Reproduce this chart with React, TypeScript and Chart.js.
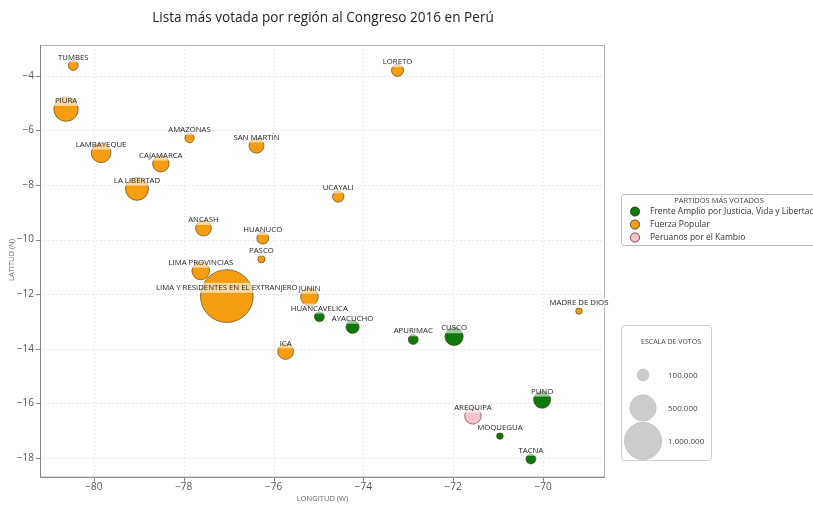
import React, { useEffect, useRef } from "react";
import { Chart, registerables } from "chart.js";
Chart.register(...registerables);

const regions = [
  "TUMBES", "PIURA", "LAMBAYEQUE", "AMAZONAS", "SAN MARTÍN", "CAJAMARCA", "LA LIBERTAD",
  "UCAYALI", "LORETO", "ANCASH", "HUANUCO", "PASCO", "LIMA PROVINCIAS",
  "LIMA Y RESIDENTES EN EL EXTRANJERO", "JUNIN", "HUANCAVELICA", "AYACUCHO", "ICA",
  "APURIMAC", "CUSCO", "MADRE DE DIOS", "PUNO", "AREQUIPA", "MOQUEGUA", "TACNA",
];
const longitudes = [
  -80.46, -80.62, -79.84, -77.87, -76.38, -78.51, -79.04,
  -74.56, -73.24, -77.56, -76.24, -76.27, -77.62,
  -77.04, -75.2, -74.98, -74.24, -75.73,
  -72.89, -71.98, -69.2, -70.02, -71.56, -70.96, -70.27,
];
const latitudes = [
  -3.62, -5.22, -6.82, -6.28, -6.56, -7.22, -8.14,
  -8.42, -3.8, -9.58, -9.95, -10.72, -11.15,
  -12.07, -12.1, -12.83, -13.2, -14.1,
  -13.66, -13.55, -12.62, -15.87, -16.46, -17.2, -18.04,
];
const votes = [
  70000, 430000, 280000, 62000, 160000, 195000, 380000,
  95000, 105000, 180000, 100000, 38000, 225000,
  2000000, 225000, 70000, 125000, 180000,
  70000, 240000, 30000, 210000, 195000, 31000, 70000,
];
// 0 = Frente Amplio, 1 = Fuerza Popular, 2 = Peruanos por el Kambio
const partyOfRegion = [
  1, 1, 1, 1, 1, 1, 1,
  1, 1, 1, 1, 1, 1,
  1, 1, 0, 0, 1,
  0, 0, 1, 0, 2, 0, 0,
];
const partyNames = [
  "Frente Amplio por Justicia, Vida y Libertad",
  "Fuerza Popular",
  "Peruanos por el Kambio",
];
const partyColors = ["#0b7a0b", "#f59e12", "#f8c3cd"];
const xTicks = [-80, -78, -76, -74, -72, -70];
const yTicks = [-18, -16, -14, -12, -10, -8, -6, -4];
const scaleVotes = [100000, 500000, 1000000];
const scaleLabels = ["100.000", "500.000", "1.000.000"];

const TITLE = "Lista más votada por región al Congreso 2016 en Perú";
const FONT = "'Open Sans', 'DejaVu Sans', sans-serif";

const radiusOf = (v: number) => 5.9 * Math.sqrt(v / 100000);
const fmt = (v: number) => String(v).replace("-", "\u2212");

export default function App() {
  const ref = useRef<HTMLCanvasElement | null>(null);

  useEffect(() => {
    const canvas = ref.current;
    if (!canvas) return;

    const datasets = partyNames.map((name, p) => ({
      label: name,
      data: regions
        .map((_, i) => i)
        .filter((i) => partyOfRegion[i] === p)
        .map((i) => ({ x: longitudes[i], y: latitudes[i], r: radiusOf(votes[i]), name: regions[i] })),
      backgroundColor: partyColors[p],
      borderColor: "rgba(70,50,10,0.75)",
      borderWidth: 0.8,
    }));

    const decor = {
      id: "decor",
      beforeDatasetsDraw(chart: any) {
        const { ctx, chartArea: a, scales } = chart;
        ctx.save();
        ctx.strokeStyle = "#e4e4e4";
        ctx.lineWidth = 0.8;
        ctx.setLineDash([2, 2]);
        xTicks.forEach((t) => {
          const x = Math.round(scales.x.getPixelForValue(t)) + 0.5;
          ctx.beginPath();
          ctx.moveTo(x, a.top);
          ctx.lineTo(x, a.bottom);
          ctx.stroke();
        });
        yTicks.forEach((t) => {
          const y = Math.round(scales.y.getPixelForValue(t)) + 0.5;
          ctx.beginPath();
          ctx.moveTo(a.left, y);
          ctx.lineTo(a.right, y);
          ctx.stroke();
        });
        ctx.setLineDash([]);
        ctx.lineWidth = 1;
        ctx.strokeStyle = "#b5b5b5";
        ctx.strokeRect(a.left + 0.5, a.top + 0.5, a.right - a.left - 1, a.bottom - a.top - 1);
        ctx.strokeStyle = "#858585";
        ctx.beginPath();
        ctx.moveTo(a.left + 0.5, a.top);
        ctx.lineTo(a.left + 0.5, a.bottom - 0.5);
        ctx.lineTo(a.right, a.bottom - 0.5);
        ctx.stroke();
        xTicks.forEach((t) => {
          const x = Math.round(scales.x.getPixelForValue(t)) + 0.5;
          ctx.beginPath();
          ctx.moveTo(x, a.bottom);
          ctx.lineTo(x, a.bottom + 4);
          ctx.stroke();
        });
        yTicks.forEach((t) => {
          const y = Math.round(scales.y.getPixelForValue(t)) + 0.5;
          ctx.beginPath();
          ctx.moveTo(a.left, y);
          ctx.lineTo(a.left - 4, y);
          ctx.stroke();
        });
        ctx.restore();
      },
      afterDatasetsDraw(chart: any) {
        const { ctx, scales } = chart;
        ctx.save();
        ctx.font = `7.8px ${FONT}`;
        ctx.textAlign = "center";
        ctx.textBaseline = "middle";
        regions.forEach((name, i) => {
          const x = scales.x.getPixelForValue(longitudes[i]);
          const y = scales.y.getPixelForValue(latitudes[i] + 0.3);
          const w = ctx.measureText(name).width;
          ctx.fillStyle = "rgba(255,255,255,0.6)";
          ctx.fillRect(x - w / 2 - 1.5, y - 5, w + 3, 10);
          ctx.fillStyle = "#222";
          ctx.fillText(name, x, y);
        });
        ctx.restore();
      },
      afterDraw(chart: any) {
        const { ctx, chartArea: a } = chart;
        ctx.save();
        ctx.fillStyle = "#222";
        ctx.font = `13.6px ${FONT}`;
        ctx.textAlign = "center";
        ctx.textBaseline = "middle";
        ctx.fillText(TITLE, 323, 18);
        ctx.fillStyle = "#666";
        ctx.font = `7.5px ${FONT}`;
        ctx.fillText("LONGITUD (W)", (a.left + a.right) / 2, 499);
        ctx.save();
        ctx.translate(12, 260);
        ctx.rotate(-Math.PI / 2);
        ctx.fillText("LATITUD (N)", 0, 0);
        ctx.restore();

        ctx.fillStyle = "#fff";
        ctx.strokeStyle = "#bdbdbd";
        ctx.lineWidth = 1;
        ctx.beginPath();
        (ctx as any).roundRect(621.5, 194.5, 220, 51, 3);
        ctx.fill();
        ctx.stroke();
        ctx.fillStyle = "#444";
        ctx.font = `7.5px ${FONT}`;
        ctx.textAlign = "center";
        ctx.fillText("PARTIDOS MÁS VOTADOS", 719, 201);
        ctx.textAlign = "left";
        ctx.font = `8.5px ${FONT}`;
        partyNames.forEach((n, p) => {
          const y = 211.5 + p * 13;
          ctx.beginPath();
          ctx.arc(635, y, 4.6, 0, Math.PI * 2);
          ctx.fillStyle = partyColors[p];
          ctx.fill();
          ctx.strokeStyle = "rgba(40,30,10,0.9)";
          ctx.lineWidth = 0.8;
          ctx.stroke();
          ctx.fillStyle = "#333";
          ctx.fillText(n, 650, y + 0.5);
        });

        ctx.fillStyle = "#fff";
        ctx.strokeStyle = "#cfcfcf";
        ctx.lineWidth = 1;
        ctx.beginPath();
        (ctx as any).roundRect(621.5, 325.5, 90, 135, 3);
        ctx.fill();
        ctx.stroke();
        ctx.fillStyle = "#444";
        ctx.font = `7px ${FONT}`;
        ctx.textAlign = "center";
        ctx.fillText("ESCALA DE VOTOS", 671, 342);
        const ys = [375, 408, 441];
        ctx.textAlign = "left";
        ctx.font = `8px ${FONT}`;
        scaleVotes.forEach((v, k) => {
          ctx.beginPath();
          ctx.arc(643, ys[k], radiusOf(v), 0, Math.PI * 2);
          ctx.fillStyle = "#cccccc";
          ctx.fill();
          ctx.strokeStyle = "#bbbbbb";
          ctx.lineWidth = 0.6;
          ctx.stroke();
          ctx.fillStyle = "#444";
          ctx.fillText(scaleLabels[k], 668, ys[k] + 0.5);
        });
        ctx.restore();
      },
    };

    const chart = new Chart(canvas, {
      type: "bubble",
      data: { datasets } as any,
      options: {
        animation: false,
        responsive: false,
        maintainAspectRatio: false,
        layout: { padding: { top: 45, right: 208, left: 0, bottom: 0 } },
        plugins: { legend: { display: false }, tooltip: { enabled: false }, title: { display: false } },
        scales: {
          x: {
            type: "linear",
            min: -81.2,
            max: -68.62,
            grid: { display: false, drawTicks: false, tickLength: 0 },
            border: { display: false },
            afterBuildTicks: (s: any) => { s.ticks = xTicks.map((v) => ({ value: v })); },
            afterFit: (s: any) => { s.height = 25; },
            ticks: { color: "#555", font: { size: 10, family: FONT }, padding: 3, callback: (v: any) => fmt(v) },
          },
          y: {
            type: "linear",
            min: -18.73,
            max: -2.87,
            grid: { display: false, drawTicks: false, tickLength: 0 },
            border: { display: false },
            afterBuildTicks: (s: any) => { s.ticks = yTicks.map((v) => ({ value: v })); },
            afterFit: (s: any) => { s.width = 40; },
            ticks: { color: "#555", font: { size: 10, family: FONT }, padding: 6, callback: (v: any) => fmt(v) },
          },
        },
      } as any,
      plugins: [decor],
    });
    return () => chart.destroy();
  }, []);

  return (
    <div style={{ position: "fixed", left: 0, top: 0, width: 813, height: 505, background: "#fff" }}>
      <canvas ref={ref} width={813} height={505} style={{ width: 813, height: 505 }} />
    </div>
  );
}
